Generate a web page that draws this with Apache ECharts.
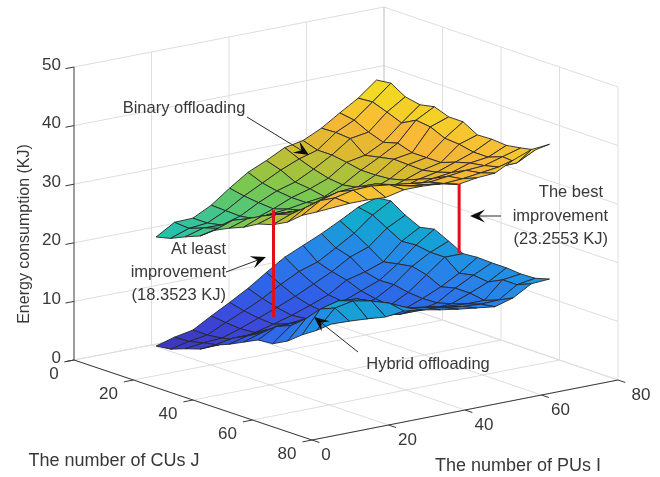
<!DOCTYPE html>
<html><head><meta charset="utf-8">
<style>html,body{margin:0;padding:0;background:#fff}#c{width:660px;height:477px;filter:blur(0.4px)}</style>
<script src="https://cdn.jsdelivr.net/npm/echarts@6/dist/echarts.min.js"></script>
</head><body><div id="c"></div>
<script>
// tick labels
const jTicks = [0, 20, 40, 60, 80];
const iTicks = [0, 20, 40, 60, 80];
const zTicks = [0, 10, 20, 30, 40, 50];
// surface sampling positions
const gridJ = [12, 16.9, 21.8, 26.8, 31.7, 36.6, 41.5, 46.4, 51.3, 56.3, 61.2, 66.1, 71];
const gridI = [12, 16.75, 21.5, 26.25, 31, 35.75, 40.5, 45.25, 50, 54.75, 59.5, 64.25, 69];
// energy consumption (KJ): rows = J, columns = I
const binary = [
 [21.5,23.4,23.5,25.1,27.4,29.5,30.9,32.5,33.1,34.6,36.6,38.5,41.0],
 [22.1,23.2,23.5,25.0,26.9,28.5,30.1,31.4,32.3,34.7,36.2,38.7,41.3],
 [23.2,24.1,24.0,24.9,26.6,28.0,28.9,30.5,32.3,34.5,35.0,37.8,39.8],
 [24.2,24.9,24.8,25.3,26.4,27.7,28.6,29.8,31.9,32.5,34.1,36.8,39.3],
 [26.0,27.1,26.6,26.9,27.2,27.7,28.1,29.5,31.4,33.0,34.8,38.1,39.8],
 [27.2,28.2,28.0,28.0,27.8,28.3,29.0,29.9,31.4,33.5,34.0,37.8,38.9],
 [28.2,29.5,29.3,29.2,29.4,29.9,30.2,30.4,31.6,33.4,34.0,36.7,38.9],
 [29.6,30.6,30.5,30.4,30.8,30.8,30.9,31.2,32.2,33.3,34.0,36.5,37.5],
 [30.3,31.5,31.8,32.0,32.6,32.6,32.4,32.2,33.2,33.8,34.9,36.0,37.6],
 [31.6,33.5,34.5,35.0,35.0,34.3,33.8,33.6,34.2,34.6,35.6,36.0,37.4],
 [33.6,35.5,36.4,36.6,36.5,35.8,35.4,35.0,35.4,35.8,36.0,36.9,37.8],
 [35.0,36.8,37.5,37.6,37.2,36.4,36.0,35.6,35.8,36.2,36.6,36.7,38.3],
 [36.5,36.7,36.7,36.5,37.2,37.2,37.0,36.3,36.8,37.0,38.6,39.8,40.1]
];
const hybrid = [
 [2.9,3.8,4.4,6.2,7.9,9.7,11.8,13.8,15.2,16.6,18.2,19.9,20.9],
 [3.2,3.9,4.4,5.9,7.3,8.8,10.6,12.2,13.2,15.0,16.9,19.4,21.2],
 [4.1,4.5,4.7,5.7,6.9,8.1,9.4,10.9,12.4,14.3,15.4,18.0,19.6],
 [4.9,5.0,5.3,5.9,6.7,7.6,8.7,9.9,11.8,12.6,13.7,16.6,18.4],
 [6.4,7.0,7.0,7.3,7.6,7.9,8.4,9.6,10.8,12.0,14.2,16.8,18.9],
 [7.4,8.2,8.2,8.1,8.0,8.2,8.6,9.4,10.3,12.1,14.6,16.4,17.7],
 [8.6,9.6,9.5,9.4,9.3,9.2,9.0,9.5,10.0,11.6,14.0,16.4,16.4],
 [9.8,11.5,11.5,11.2,11.0,10.4,9.8,9.8,10.2,11.4,12.8,14.5,16.6],
 [10.0,12.5,12.8,13.0,12.8,12.0,11.2,10.8,10.8,11.5,13.4,15.0,16.5],
 [11.3,14.5,15.5,15.8,15.2,13.9,13.0,12.5,12.0,12.2,13.4,14.7,16.5],
 [13.2,17.0,17.8,17.5,16.4,15.0,14.2,13.7,13.2,13.0,13.0,15.9,16.3],
 [14.8,18.0,18.6,18.0,17.0,15.6,15.0,14.4,14.0,13.8,13.9,15.9,16.4],
 [16.7,16.6,16.4,16.1,16.5,16.1,15.5,15.0,14.6,14.2,15.1,16.9,17.1]
];
// improvement bars: J, I, lower z, upper z
const gaps = [[50, 13.2, 14.2, 32.4], [50, 61.5, 18.9, 30.7]];

// colour ramp (z, colour)
const ramp = [[2,'#3c2fb0'],[6,'#3c48dc'],[10,'#2e62e8'],[14,'#2a80ea'],[16,'#2090e4'],[18,'#14a6d2'],[21,'#12b4c0'],[23,'#2fc4a0'],[28,'#78c850'],[31,'#b4c038'],[33,'#e0b830'],[36,'#f8b838'],[38.5,'#f4d028'],[41,'#f0e020']];
function colourOf(z){
  for(let k=1;k<ramp.length;k++){
    if(z<=ramp[k][0]){
      const t=Math.max(0,(z-ramp[k-1][0])/(ramp[k][0]-ramp[k-1][0]));
      return echarts.color.lerp(t,[ramp[k-1][1],ramp[k][1]]);
    }
  }
  return ramp[ramp.length-1][1];
}
// 3D view → page position on the two hidden value axes
function project(J,I,z){
  return [74+2.975*J+3.875*I-0.000625*J*I, 360+J-0.75*I-5.86*z];
}
const GRID='#dedede', AXIS='#3a3a3a', TXT='#383838', FONT='"Liberation Sans",Arial,sans-serif';

function line(api,a,b,stroke,w){
  const p=api.coord(a),q=api.coord(b);
  return {type:'line',shape:{x1:p[0],y1:p[1],x2:q[0],y2:q[1]},style:{stroke,lineWidth:w||1,fill:null},silent:true};
}
function text(p,s,align,size,fill){
  return {type:'text',x:p[0],y:p[1],style:{text:s,fill:fill||TXT,font:(size||17)+'px '+FONT,align:align||'center',verticalAlign:'middle'},silent:true};
}
function renderBox(params,api){
  const ch=[], P=project;
  zTicks.forEach(z=>{
    ch.push(line(api,P(0,0,z),P(0,80,z),GRID));
    ch.push(line(api,P(0,80,z),P(80,80,z),GRID));
  });
  iTicks.forEach(i=>{
    ch.push(line(api,P(0,i,0),P(80,i,0),GRID));
    if(i>0) ch.push(line(api,P(0,i,0),P(0,i,50),i===80?'#bdbdbd':GRID));
  });
  jTicks.forEach(j=>{
    ch.push(line(api,P(j,0,0),P(j,80,0),GRID));
    if(j>0) ch.push(line(api,P(j,80,0),P(j,80,50),GRID));
  });
  ch.push(line(api,P(0,0,0),P(0,0,50),AXIS));
  ch.push(line(api,P(0,0,0),P(80,0,0),AXIS));
  ch.push(line(api,P(80,0,0),P(80,80,0),AXIS));
  zTicks.forEach(z=>{
    ch.push(line(api,P(0,0,z),P(0,-2.2,z),AXIS));
    const p=api.coord(P(0,0,z)); ch.push(text([p[0]-13,p[1]-2],String(z),'right'));
  });
  jTicks.forEach(j=>{
    ch.push(line(api,P(j,0,0),P(j,-2.5,0),AXIS));
    const p=api.coord(P(j,0,0)); ch.push(text([p[0]-(j===0?20:25),p[1]+14],String(j)));
  });
  iTicks.forEach(i=>{
    ch.push(line(api,P(80,i,0),P(82.5,i,0),AXIS));
    const p=api.coord(P(80,i,0)); ch.push(text([p[0]+(i===0?14:i===80?23:19),p[1]+15],String(i)));
  });
  return {type:'group',children:ch};
}
// painter's order: far corner (small J, large I) first
function cellList(){
  const out=[];
  for(let a=0;a<gridJ.length-1;a++) for(let b=gridI.length-2;b>=0;b--) out.push([a,b,a-b]);
  return out.sort((p,q)=>p[2]-q[2]);
}
function surface(values){
  return {
    type:'custom',coordinateSystem:'cartesian2d',clip:false,silent:true,animation:false,
    data:cellList(),
    encode:{x:0,y:1},
    renderItem(params,api){
      const a=api.value(0),b=api.value(1);
      const corners=[[a,b],[a,b+1],[a+1,b+1],[a+1,b]];
      const pts=corners.map(c=>api.coord(project(gridJ[c[0]],gridI[c[1]],values[c[0]][c[1]])));
      const mean=corners.reduce((s,c)=>s+values[c[0]][c[1]],0)/4;
      return {type:'polygon',shape:{points:pts},style:{fill:colourOf(mean),stroke:'#26262a',lineWidth:0.9,lineJoin:'round'}};
    }
  };
}
// callouts in page pixels: label lines and arrows
const labels = [
 {t:'Binary offloading',x:184,y:108,a:'center',s:16.5},
 {t:'At least',x:226,y:249,a:'right',s:16.5},{t:'improvement',x:226,y:272,a:'right',s:16.5},{t:'(18.3523 KJ)',x:226,y:295,a:'right',s:16.5},
 {t:'The best',x:603,y:192,a:'right',s:16.5},{t:'improvement',x:608,y:216,a:'right',s:16.5},{t:'(23.2553 KJ)',x:608,y:239,a:'right',s:16.5},
 {t:'Hybrid offloading',x:428,y:364,a:'center',s:16.5},
 {t:'The number of CUs J',x:114,y:461,a:'center',s:18},{t:'The number of PUs I',x:518,y:466,a:'center',s:18}
];
const arrows = [[247,117,309,155],[226,272,266,257],[501,216,470,216],[358,352,314,317]];
function arrowGraphics(){
  const g=[];
  arrows.forEach(([x1,y1,x2,y2])=>{
    const d=Math.hypot(x2-x1,y2-y1),ux=(x2-x1)/d,uy=(y2-y1)/d,nx=-uy,ny=ux,L=15,W=6.5;
    g.push({type:'line',z:100,shape:{x1,y1,x2:x2-ux*6,y2:y2-uy*6},style:{stroke:'#2b2b2b',lineWidth:1},silent:true});
    g.push({type:'polygon',z:100,shape:{points:[[x2,y2],[x2-ux*L+nx*W,y2-uy*L+ny*W],[x2-ux*L*0.6,y2-uy*L*0.6],[x2-ux*L-nx*W,y2-uy*L-ny*W]]},style:{fill:'#0c0c0c'},silent:true});
  });
  labels.forEach(l=>g.push({type:'text',z:100,x:l.x,y:l.y,style:{text:l.t,fill:TXT,font:l.s+'px '+FONT,align:l.a,verticalAlign:'middle',backgroundColor:'transparent'},silent:true}));
  g.push({type:'text',z:100,x:25,y:234,rotation:Math.PI/2,originX:0,originY:0,style:{text:'Energy consumption (KJ)',fill:TXT,font:'16px '+FONT,align:'center',verticalAlign:'middle'},silent:true});
  return g;
}
const chart=echarts.init(document.getElementById('c'),null,{renderer:'canvas'});
chart.setOption({
  animation:false,backgroundColor:'#fff',
  grid:{left:0,right:0,top:0,bottom:0},
  xAxis:{type:'value',min:0,max:660,show:false},
  yAxis:{type:'value',min:0,max:477,inverse:true,show:false},
  series:[
    {type:'custom',clip:false,silent:true,animation:false,data:[[0,0]],renderItem:renderBox},
    surface(hybrid),
    surface(binary),
    {type:'custom',clip:false,silent:true,animation:false,data:gaps,renderItem(params,api){
      const J=api.value(0),I=api.value(1);
      return line(api,project(J,I,api.value(2)),project(J,I,api.value(3)),'#e0101a',3);
    }}
  ],
  graphic:{elements:arrowGraphics()}
});
</script></body></html>
